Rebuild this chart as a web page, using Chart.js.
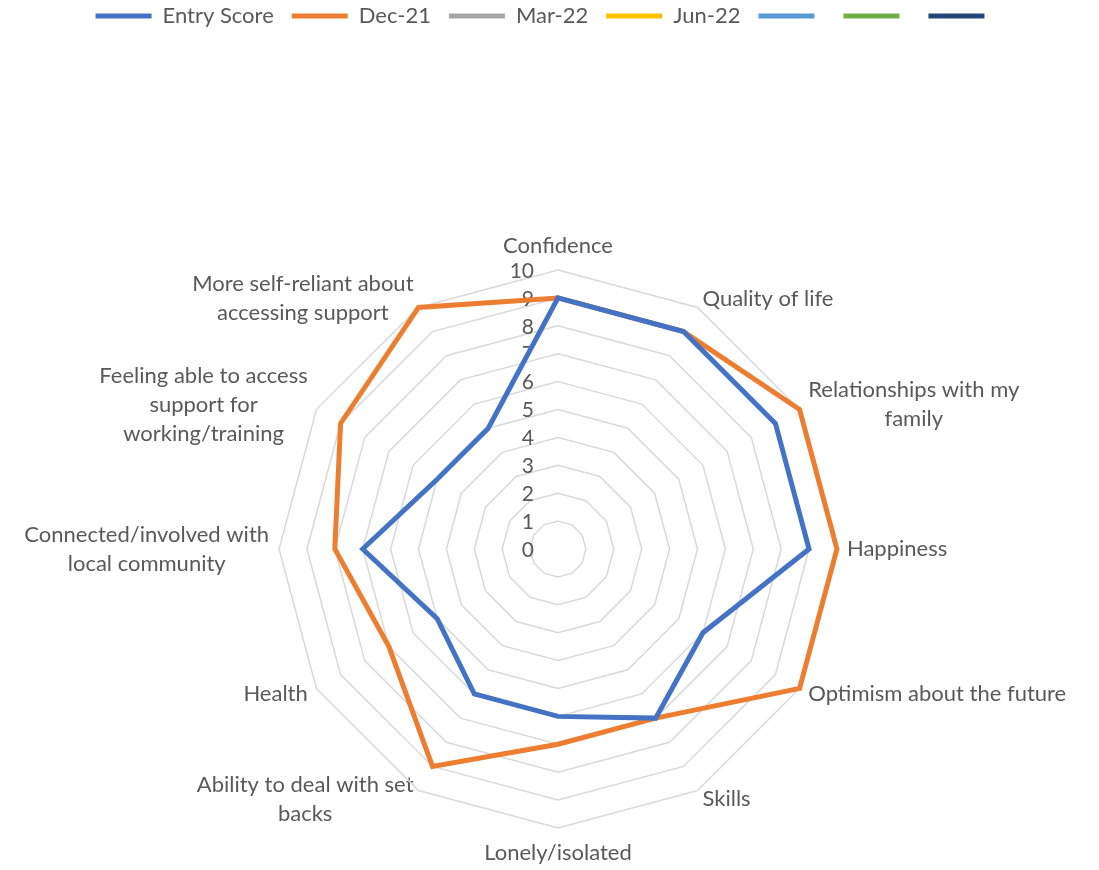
<!DOCTYPE html>
<html>
<head>
<meta charset="utf-8">
<script src="https://cdn.jsdelivr.net/npm/chart.js@4/dist/chart.umd.min.js"></script>
<style>
  body { margin: 0; background: #fff; }
  #wrap { width: 1099px; height: 870px; }
</style>
</head>
<body>
<div id="wrap"><canvas id="radar" width="1099" height="870"></canvas></div>
<script>
const categories = [
  'Confidence',
  'Quality of life',
  ['Relationships with my', 'family'],
  'Happiness',
  'Optimism about the future',
  'Skills',
  'Lonely/isolated',
  ['Ability to deal with set', 'backs'],
  'Health',
  ['Connected/involved with', 'local community'],
  ['Feeling able to access', 'support for', 'working/training'],
  ['More self-reliant about', 'accessing support']
]
const seriesNames = ['Entry Score', 'Dec-21', 'Mar-22', 'Jun-22', '', '', '']
const seriesColors = ['#4472C4', '#ED7D31', '#A5A5A5', '#FFC000', '#5B9BD5', '#70AD47', '#264478']
const entryScore = [9, 9, 9, 9, 6, 7, 6, 6, 5, 7, 5, 5]
const dec21 = [9, 9, 10, 10, 10, 7, 7, 9, 7, 8, 9, 10]
const mar22 = []
const jun22 = []
const tickValues = [0, 1, 2, 3, 4, 5, 6, 7, 8, 9, 10]

const allData = [entryScore, dec21, mar22, jun22, [], [], []]
const textGrey = '#595959'
const fontFamily = 'Lato, "Open Sans", sans-serif'

// leave the big empty gap under the legend
const legendSpacer = {
  id: 'legendSpacer',
  beforeInit(chart) {
    const fit = chart.legend.fit
    chart.legend.fit = function () {
      fit.bind(chart.legend)()
      this.height += 194
    }
  }
}

// excel centres the side labels on their spoke (and centres each line),
// chart.js hangs them above/below and aligns left/right
const centerLabels = {
  id: 'centerLabels',
  afterLayout(chart) {
    const scale = chart.scales.r
    const items = scale._pointLabelItems || []
    items.forEach((it, i) => {
      it.x = (it.left + it.right) / 2
      it.textAlign = 'center'
      const deg = Math.round(scale.getIndexAngle(i) * 180 / Math.PI) % 360
      if (deg % 90 === 0) return
      const h = it.bottom - it.top
      if (deg < 90 || deg > 270) it.y += h / 2
      else it.y -= h / 2
    })
  }
}

// tick numbers sit left of the top axis, like the original
const tickLabels = {
  id: 'tickLabels',
  beforeDatasetsDraw(chart) {
    const scale = chart.scales.r
    const ctx = chart.ctx
    ctx.save()
    ctx.font = '21px ' + fontFamily
    ctx.fillStyle = textGrey
    ctx.textAlign = 'right'
    ctx.textBaseline = 'middle'
    tickValues.forEach(v => {
      const p = scale.getPointPositionForValue(0, v)
      ctx.fillText(String(v), p.x - 24, p.y + 1)
    })
    ctx.restore()
  }
}

const ctx = document.getElementById('radar')
new Chart(ctx, {
  type: 'radar',
  data: {
    labels: categories,
    datasets: seriesNames.map((name, i) => ({
      label: name,
      data: allData[i],
      borderColor: seriesColors[i],
      backgroundColor: seriesColors[i],
      borderWidth: 5,
      borderCapStyle: 'round',
      fill: false,
      pointRadius: 0,
      pointHoverRadius: 0
    }))
  },
  options: {
    responsive: false,
    animation: false,
    layout: { padding: { top: -13, left: 0, right: 8, bottom: 2 } },
    plugins: {
      legend: {
        position: 'top',
        labels: {
          usePointStyle: true,
          pointStyle: 'line',
          pointStyleWidth: 56,
          padding: 18,
          color: textGrey,
          font: { size: 22, family: fontFamily }
        }
      },
      tooltip: { enabled: false }
    },
    scales: {
      r: {
        min: 0,
        max: 10,
        ticks: { stepSize: 1, display: false },
        angleLines: { display: false },
        grid: { color: '#d9d9d9', lineWidth: 1.5 },
        pointLabels: {
          color: textGrey,
          padding: 10,
          font: { size: 22, family: fontFamily, lineHeight: 1.32 }
        }
      }
    }
  },
  plugins: [legendSpacer, centerLabels, tickLabels]
})
</script>
</body>
</html>
